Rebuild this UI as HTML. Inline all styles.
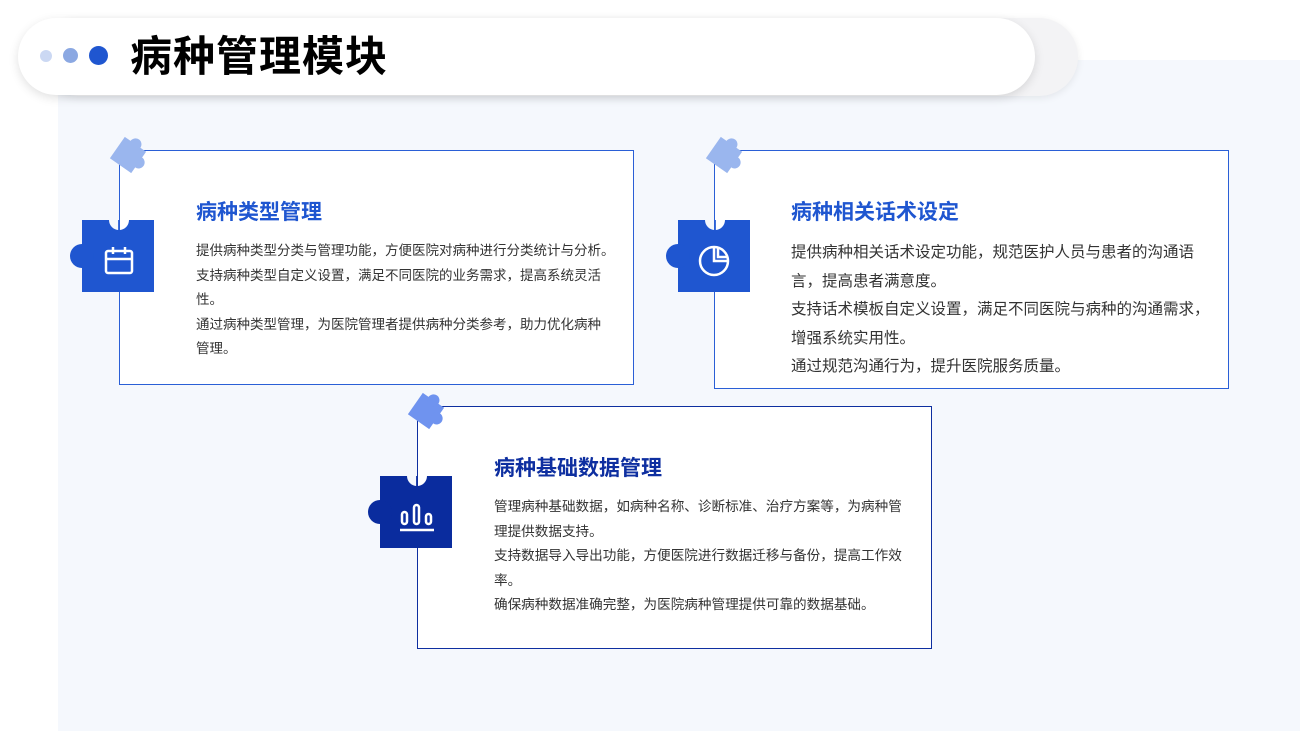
<!DOCTYPE html>
<html><head><meta charset="utf-8"><style>
*{margin:0;padding:0;box-sizing:border-box}
body{width:1300px;height:731px;background:#fff;position:relative;overflow:hidden;font-family:"Liberation Sans","Noto Sans CJK SC",sans-serif}
.abs{position:absolute}
.panel{left:58px;top:60px;width:1242px;height:671px;background:#f5f8fd}
.pill2{left:40px;top:18px;width:1038px;height:78px;border-radius:39px;background:#f3f3f5;box-shadow:0 2px 8px rgba(0,0,0,.08)}
.pill{left:18px;top:18px;width:1017px;height:77px;border-radius:39px;background:#fff;box-shadow:0 3px 10px rgba(0,0,0,.12)}
.dot{border-radius:50%}
.h1{left:130px;top:30px;font-size:42px;font-weight:bold;color:#000;line-height:54px;letter-spacing:1px}
.card{background:#fff;border:1.8px solid #2a5fd6}
.t{font-size:21px;font-weight:bold;line-height:26px;white-space:nowrap}
.p{color:#333;white-space:nowrap}
</style></head><body>
<div class="abs panel"></div>
<div class="abs pill2"></div>
<div class="abs pill"></div>
<div class="abs dot" style="left:40px;top:50px;width:12px;height:12px;background:#cbd8f3"></div>
<div class="abs dot" style="left:63px;top:48px;width:15px;height:15px;background:#8ba8e2"></div>
<div class="abs dot" style="left:89px;top:46px;width:19px;height:19px;background:#1f56d0"></div>
<div class="abs h1">病种管理模块</div>

<!-- card1 -->
<div class="abs card" style="left:119px;top:150px;width:515px;height:235px"></div>
<svg class="abs" style="left:60px;top:130px" width="110" height="170" viewBox="0 0 110 170">
<g transform="translate(68,25) rotate(35)"><rect x="-13" y="-13" width="26" height="26" fill="#9ab6ee"/><circle cx="13" cy="0" r="6" fill="#9ab6ee"/><circle cx="0" cy="-13" r="6" fill="#9ab6ee"/></g>
<path d="M22 90 H49 A10 10 0 0 0 69 90 H94 V162 H22 Z" fill="#1f56d0"/><circle cx="22" cy="126" r="12" fill="#1f56d0"/>
<line x1="59" y1="90" x2="59" y2="100" stroke="#2a5fd6" stroke-width="1.8"/>
<g fill="none" stroke="#fff" stroke-width="2.5"><rect x="46" y="121" width="26" height="22" rx="2"/><line x1="46" y1="129" x2="72" y2="129"/><line x1="53" y1="117" x2="53" y2="124"/><line x1="65" y1="117" x2="65" y2="124"/></g>
</svg>
<div class="abs t" style="left:196px;top:200px;color:#1f56d0">病种类型管理</div>
<div class="abs p" style="left:196px;top:239px;font-size:13.5px;line-height:24.5px">提供病种类型分类与管理功能，方便医院对病种进行分类统计与分析。<br>支持病种类型自定义设置，满足不同医院的业务需求，提高系统灵活<br>性。<br>通过病种类型管理，为医院管理者提供病种分类参考，助力优化病种<br>管理。</div>

<!-- card2 -->
<div class="abs card" style="left:714px;top:150px;width:515px;height:239px"></div>
<svg class="abs" style="left:656px;top:130px" width="110" height="170" viewBox="0 0 110 170">
<g transform="translate(68,25) rotate(35)"><rect x="-13" y="-13" width="26" height="26" fill="#9ab6ee"/><circle cx="13" cy="0" r="6" fill="#9ab6ee"/><circle cx="0" cy="-13" r="6" fill="#9ab6ee"/></g>
<path d="M22 90 H49 A10 10 0 0 0 69 90 H94 V162 H22 Z" fill="#1f56d0"/><circle cx="22" cy="126" r="12" fill="#1f56d0"/>
<line x1="59" y1="90" x2="59" y2="100" stroke="#2a5fd6" stroke-width="1.8"/>
<g fill="none" stroke="#fff" stroke-width="2.5"><circle cx="58" cy="131" r="14"/><path d="M58 117 V131 H72"/><path d="M62 117 V127 H72"/></g>
</svg>
<div class="abs t" style="left:791px;top:200px;color:#1f56d0">病种相关话术设定</div>
<div class="abs p" style="left:791px;top:239px;font-size:15.5px;line-height:28.5px">提供病种相关话术设定功能，规范医护人员与患者的沟通语<br>言，提高患者满意度。<br>支持话术模板自定义设置，满足不同医院与病种的沟通需求，<br>增强系统实用性。<br>通过规范沟通行为，提升医院服务质量。</div>

<!-- card3 -->
<div class="abs card" style="left:417px;top:406px;width:515px;height:243px;border-color:#0e2fa0"></div>
<svg class="abs" style="left:358px;top:386px" width="110" height="170" viewBox="0 0 110 170">
<g transform="translate(68,25) rotate(35)"><rect x="-13" y="-13" width="26" height="26" fill="#6f93ef"/><circle cx="13" cy="0" r="6" fill="#6f93ef"/><circle cx="0" cy="-13" r="6" fill="#6f93ef"/></g>
<path d="M22 90 H49 A10 10 0 0 0 69 90 H94 V162 H22 Z" fill="#0a2c9e"/><circle cx="22" cy="126" r="12" fill="#0a2c9e"/>
<line x1="59" y1="90" x2="59" y2="100" stroke="#0e2fa0" stroke-width="1.8"/>
<g fill="none" stroke="#fff" stroke-width="2.5"><rect x="44" y="126" width="5" height="12" rx="2.5"/><rect x="56" y="119" width="5" height="19" rx="2.5"/><rect x="68" y="128" width="5" height="10" rx="2.5"/><line x1="42" y1="144" x2="76" y2="144"/></g>
</svg>
<div class="abs t" style="left:494px;top:456px;color:#0e2fa0">病种基础数据管理</div>
<div class="abs p" style="left:494px;top:495px;font-size:13.6px;line-height:24.5px">管理病种基础数据，如病种名称、诊断标准、治疗方案等，为病种管<br>理提供数据支持。<br>支持数据导入导出功能，方便医院进行数据迁移与备份，提高工作效<br>率。<br>确保病种数据准确完整，为医院病种管理提供可靠的数据基础。</div>
</body></html>
